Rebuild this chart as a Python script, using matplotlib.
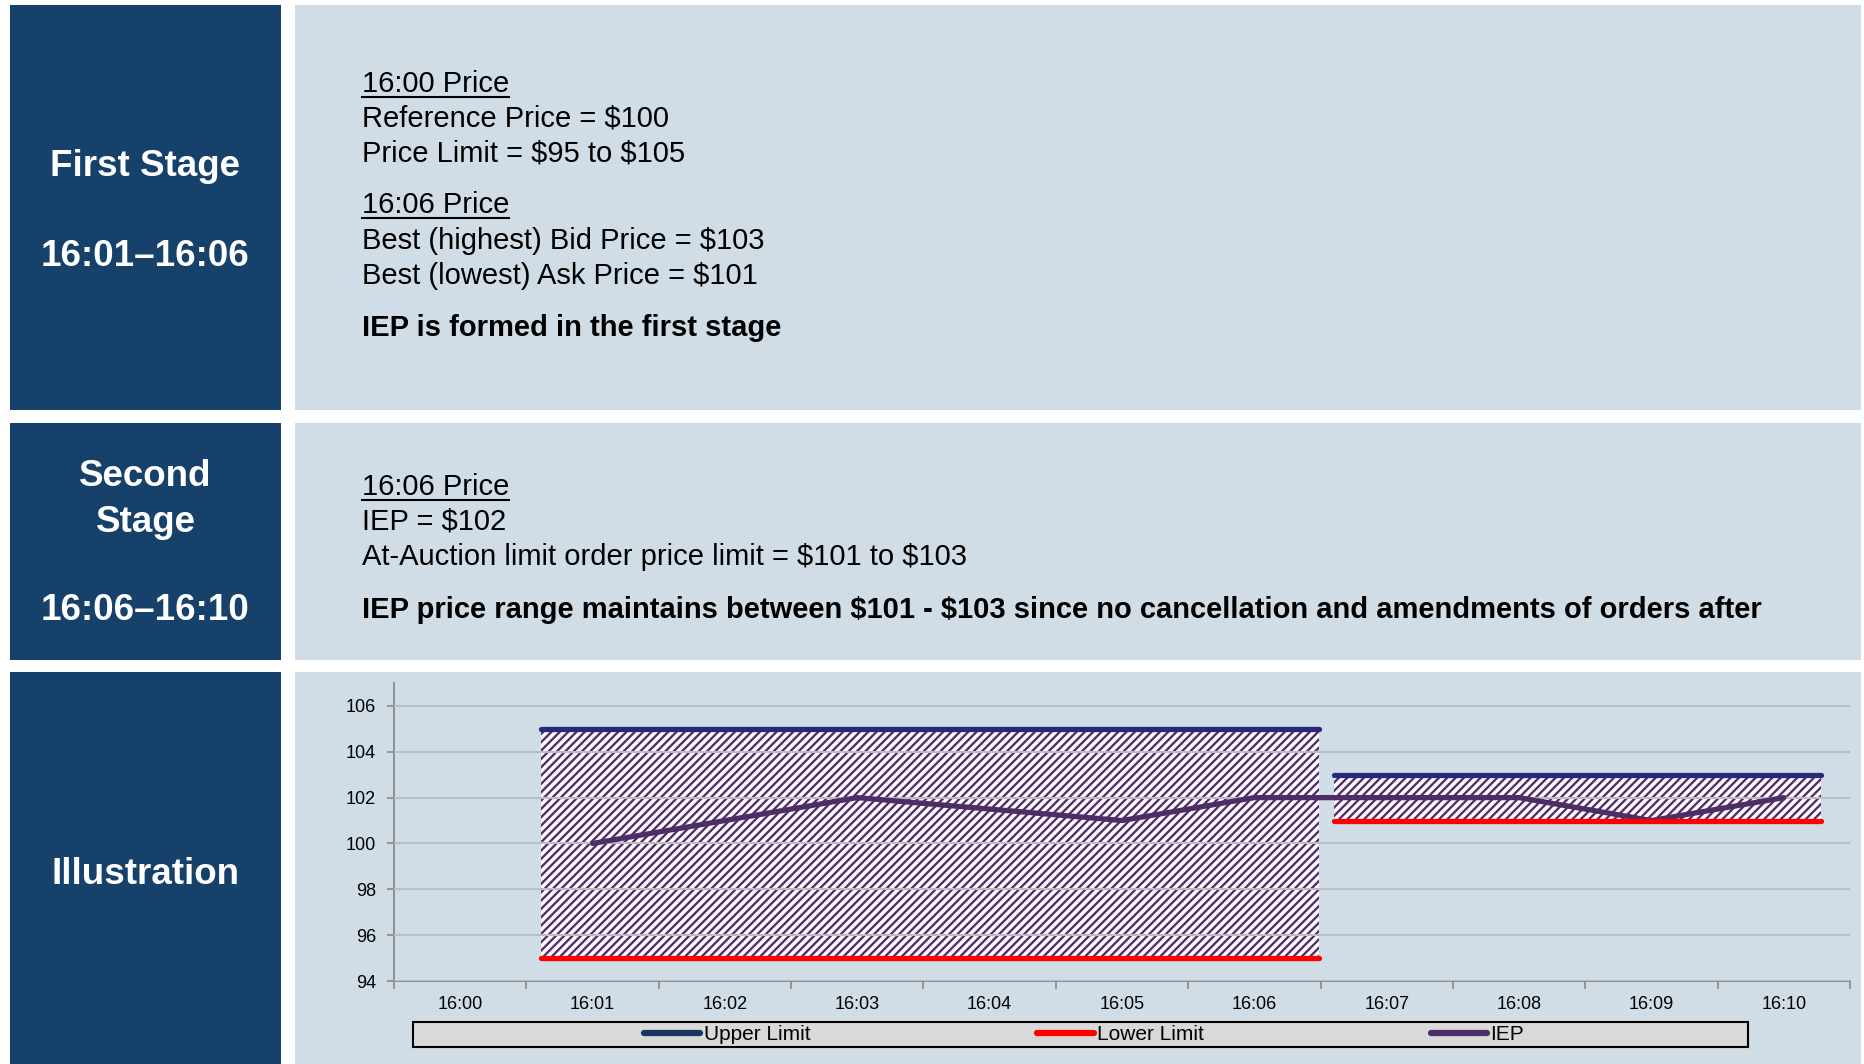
import matplotlib.pyplot as plt
from matplotlib.patches import Rectangle
from matplotlib.lines import Line2D

plt.rcParams['font.family'] = ['Liberation Sans', 'DejaVu Sans']
plt.rcParams['hatch.linewidth'] = 1.7
plt.rcParams['text.parse_math'] = False

# === DATA ===
minutes = ["16:00", "16:01", "16:02", "16:03", "16:04", "16:05",
           "16:06", "16:07", "16:08", "16:09", "16:10"]
y_ticks = [94, 96, 98, 100, 102, 104, 106]

# first stage price limit band (x in category units)
stage1_x = [0.61, 6.49]
stage1_upper = [105, 105]
stage1_lower = [95, 95]

# second stage at-auction limit band
stage2_x = [6.6, 10.28]
stage2_upper = [103, 103]
stage2_lower = [101, 101]

# IEP from 16:01 to 16:10
iep_x = [1, 2, 3, 4, 5, 6, 7, 8, 9, 10]
iep = [100, 101, 102, 101.5, 101, 102, 102, 102, 101, 102]

# === STYLE ===
W, H = 1865, 1064
DARK = "#16416A"
LIGHT = "#D0DDE6"
UPPER_C = "#27297A"
UPPER_LEG = "#17375E"
LOWER_C = "#FF0000"
IEP_C = "#4E2D66"
HATCH_C = "#552C6E"
DY = 3  # text nudge (px)


def fx(px):
    return px / W


def fy(py):
    return 1 - py / H


fig = plt.figure(figsize=(W / 100, H / 100), dpi=100)
fig.patch.set_facecolor("white")

# panels: (top, bottom) in pixels
rows = [(5, 410), (423, 660), (672, 1064)]
for top, bot in rows:
    fig.patches.append(Rectangle((fx(10), fy(bot)), fx(281 - 10), (bot - top) / H,
                                 transform=fig.transFigure, facecolor=DARK, edgecolor="none", zorder=0))
    fig.patches.append(Rectangle((fx(295), fy(bot)), fx(1861 - 295), (bot - top) / H,
                                 transform=fig.transFigure, facecolor=LIGHT, edgecolor="none", zorder=0))

# left headings
for txt, yy in [("First Stage", 164), ("16:01\u201316:06", 253),
                ("Second", 473), ("Stage", 519), ("16:06\u201316:10", 608),
                ("Illustration", 871)]:
    fig.text(fx(145.5), fy(yy + DY), txt, color="white", fontsize=26.5, fontweight="bold",
             ha="center", va="center")

# right text blocks
lines = [
    ("16:00 Price", 81, "normal", True),
    ("Reference Price = $100", 115.5, "normal", False),
    ("Price Limit = $95 to $105", 151, "normal", False),
    ("16:06 Price", 202, "normal", True),
    ("Best (highest) Bid Price = $103", 238, "normal", False),
    ("Best (lowest) Ask Price = $101", 273, "normal", False),
    ("IEP is formed in the first stage", 325, "bold", False),
    ("16:06 Price", 484, "normal", True),
    ("IEP = $102", 519, "normal", False),
    ("At-Auction limit order price limit = $101 to $103", 554, "normal", False),
    ("IEP price range maintains between $101 - $103 since no cancellation and amendments of orders after",
     607, "bold", False),
]
underlined = []
for txt, yy, wt, ul in lines:
    t = fig.text(fx(362), fy(yy + DY), txt, color="black", fontsize=21, fontweight=wt,
                 ha="left", va="center")
    if ul:
        underlined.append((t, yy))

# === CHART ===
ax = fig.add_axes([fx(394), fy(981), fx(1850 - 394), (981 - 683) / H])
ax.set_facecolor("none")
ax.set_zorder(2)

ax.fill_between(stage1_x, stage1_lower, stage1_upper, facecolor="white", edgecolor=HATCH_C,
                hatch="////", linewidth=0, zorder=1)
ax.fill_between(stage2_x, stage2_lower, stage2_upper, facecolor="white", edgecolor=HATCH_C,
                hatch="////", linewidth=0, zorder=1)

lw = 3.8
ax.plot(iep_x, iep, color=IEP_C, lw=lw, solid_capstyle="round", solid_joinstyle="round", zorder=4)
ax.plot(stage1_x, stage1_upper, color=UPPER_C, lw=lw, solid_capstyle="round", zorder=5)
ax.plot(stage2_x, stage2_upper, color=UPPER_C, lw=lw, solid_capstyle="round", zorder=5)
ax.plot(stage1_x, stage1_lower, color=LOWER_C, lw=lw, solid_capstyle="round", zorder=5)
ax.plot(stage2_x, stage2_lower, color=LOWER_C, lw=lw, solid_capstyle="round", zorder=5)

ax.set_xlim(-0.5, len(minutes) - 0.5)
ax.set_ylim(94, 107)
ax.set_yticks(y_ticks)
ax.set_xticks(range(len(minutes)))
ax.set_xticklabels(minutes)
ax.set_xticks([i - 0.5 for i in range(len(minutes) + 1)], minor=True)
ax.tick_params(axis="x", which="major", length=0, pad=11, labelsize=13)
ax.tick_params(axis="x", which="minor", length=6, width=1.2, color="#888888", direction="out")
ax.tick_params(axis="y", length=5, width=1.2, color="#888888", labelsize=13, pad=8)

ax.set_axisbelow(False)
ax.yaxis.grid(True, color="#BDBDBD", linewidth=1.5, zorder=2.5)
for s in ["top", "right"]:
    ax.spines[s].set_visible(False)
for s in ["left", "bottom"]:
    ax.spines[s].set_color("#888888")
    ax.spines[s].set_linewidth(1.3)

# legend box + entries
fig.patches.append(Rectangle((fx(413), fy(1047)), fx(1748 - 413), (1047 - 1022) / H,
                             transform=fig.transFigure, facecolor="#D9D9D9", edgecolor="black",
                             linewidth=1.5, zorder=1))
handles = [Line2D([], [], color=UPPER_LEG, lw=4.5, solid_capstyle="round"),
           Line2D([], [], color=LOWER_C, lw=4.5, solid_capstyle="round"),
           Line2D([], [], color=IEP_C, lw=4.5, solid_capstyle="round")]
leg = fig.legend(handles, ["Upper Limit", "Lower Limit", "IEP"], ncol=3, loc="center",
                 bbox_to_anchor=(fx(1084), fy(1035)), frameon=False, fontsize=15,
                 handlelength=2.7, handletextpad=0.15, columnspacing=10.9,
                 borderpad=0, borderaxespad=0)
leg.set_zorder(3)

# underlines under headings
fig.canvas.draw()
rend = fig.canvas.get_renderer()
for t, yy in underlined:
    bb = t.get_window_extent(rend)
    fig.add_artist(Line2D([bb.x0 / W, bb.x1 / W], [fy(yy + 16), fy(yy + 16)],
                          transform=fig.transFigure, color="black", lw=1.5))

fig.savefig("out.png", dpi=100, facecolor="white")
